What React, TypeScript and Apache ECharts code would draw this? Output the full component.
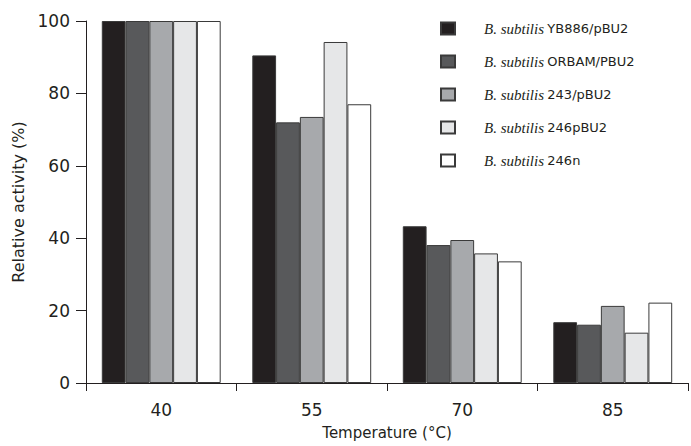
import React, { useEffect, useRef } from "react";
import * as echarts from "echarts";

const categories = ["40", "55", "70", "85"];
const strainNames = ["YB886/pBU2", "ORBAM/PBU2", "243/pBU2", "246pBU2", "246n"];
const yb886 = [100, 90.5, 43.3, 16.8];
const orbam = [100, 72, 38.1, 16.1];
const s243 = [100, 73.5, 39.5, 21.3];
const s246p = [100, 94.2, 35.8, 13.9];
const s246n = [100, 77, 33.6, 22.2];
const seriesValues = [yb886, orbam, s243, s246p, s246n];
const colors = ["#231f20", "#58595b", "#a7a9ac", "#e6e7e8", "#ffffff"];
const yTicks = { min: 0, max: 100, interval: 20 };

export default function App() {
  const ref = useRef<HTMLDivElement>(null);
  useEffect(() => {
    if (!ref.current) return;
    const chart = echarts.init(ref.current, null, { renderer: "svg" });
    const textColor = "#231f20";
    const sans = "DejaVu Sans";
    chart.setOption({
      animation: false,
      grid: { left: 86, right: 3, top: 21, bottom: 63, containLabel: false },
      legend: {
        orient: "vertical",
        left: 435,
        top: 16,
        icon: "rect",
        itemWidth: 14,
        itemHeight: 12,
        itemGap: 18,
        data: strainNames.map((n) => "B. subtilis " + n),
        formatter: (name: string) =>
          "{it|B. subtilis} {rg|" + name.replace("B. subtilis ", "") + "}",
        textStyle: {
          padding: [0, 0, 0, 24],
          rich: {
            it: {
              fontFamily: "Liberation Serif",
              fontStyle: "italic",
              fontSize: 15,
              color: textColor,
              lineHeight: 16,
            },
            rg: {
              fontFamily: sans,
              fontSize: 13,
              color: textColor,
              lineHeight: 16,
            },
          },
        },
      },
      xAxis: {
        type: "category",
        data: categories,
        name: "Temperature (°C)",
        nameLocation: "middle",
        nameGap: 42,
        nameTextStyle: { fontFamily: sans, fontSize: 15, color: textColor },
        axisLine: { lineStyle: { color: textColor, width: 1 } },
        axisTick: { show: true, length: 8, alignWithLabel: false, lineStyle: { color: textColor } },
        axisLabel: { fontFamily: sans, fontSize: 17, color: textColor, margin: 18 },
      },
      yAxis: {
        type: "value",
        min: yTicks.min,
        max: yTicks.max,
        interval: yTicks.interval,
        name: "Relative activity (%)",
        nameLocation: "middle",
        nameGap: 60,
        nameTextStyle: { fontFamily: sans, fontSize: 16, color: textColor },
        axisLine: { show: true, lineStyle: { color: textColor, width: 1 } },
        axisTick: { show: true, length: 10, lineStyle: { color: textColor } },
        axisLabel: { fontFamily: sans, fontSize: 17, color: textColor, margin: 16 },
        splitLine: { show: false },
      },
      series: seriesValues.map((vals, i) => ({
        type: "bar",
        name: "B. subtilis " + strainNames[i],
        data: vals,
        barGap: "0%",
        barCategoryGap: "21%",
        itemStyle: { color: colors[i], borderColor: "#3a3a3a", borderWidth: 1 },
      })),
    });
    return () => chart.dispose();
  }, []);
  return <div ref={ref} style={{ width: 691, height: 446, position: "absolute", left: 0, top: 0 }} />;
}
